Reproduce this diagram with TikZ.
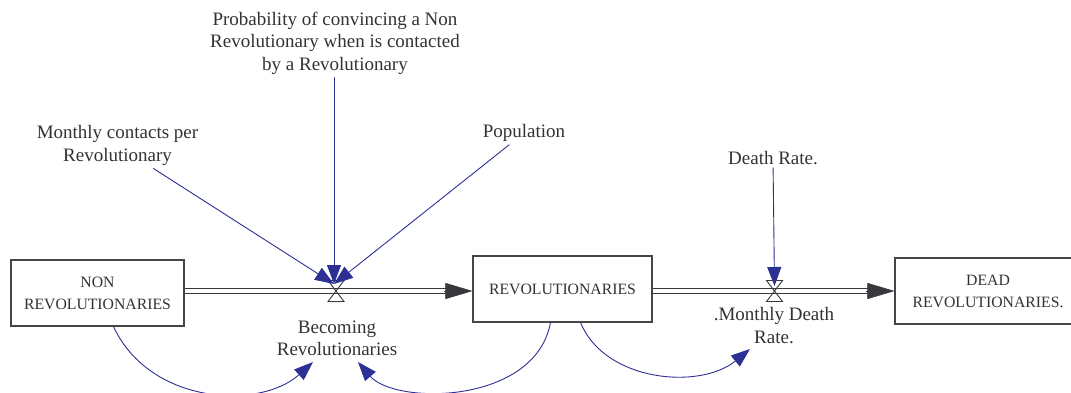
\documentclass[tikz,border=0pt]{standalone}
\usepackage{fontspec}
\setmainfont{Liberation Serif}
\usetikzlibrary{arrows.meta,calc}
\definecolor{linkblue}{RGB}{44,48,148}
\definecolor{txt}{RGB}{50,50,50}
\definecolor{boxgray}{RGB}{70,70,70}
\definecolor{pipegray}{RGB}{55,55,60}
\begin{document}
\begin{tikzpicture}[x=1pt,y=-1pt,
  stock/.style={draw=boxgray, line width=1.1pt, text=txt, align=center,
    font=\fontsize{15.75}{22}\selectfont, minimum height=66pt, inner sep=0pt},
  lbl/.style={text=txt, align=center, font=\fontsize{19}{22.5}\selectfont, inner sep=0pt, outer sep=3pt},
  valve/.style={minimum width=16pt, minimum height=21pt, inner sep=0pt, outer sep=0pt},
  valveline/.style={draw=pipegray, line width=0.9pt, line join=miter},
  pipeline/.style={draw=pipegray, line width=1pt},
  flowtip/.style={draw=pipegray, fill=pipegray, line width=0.5pt, -{Triangle[length=27pt,width=16pt]}},
  link/.style={draw=linkblue, line width=0.9pt, -{Triangle[length=19pt,width=14pt]}}
]
\useasboundingbox (0,0) rectangle (1071,392);

% stocks
\node[stock, minimum width=173pt] (non) at (97.5,293) {NON\\REVOLUTIONARIES};
\node[stock, minimum width=179pt] (rev) at (562.5,289) {REVOLUTIONARIES};
\node[stock, minimum width=186pt] (dead) at (988,291) {DEAD\\REVOLUTIONARIES.};

% valves
\node[valve] (v1) at (336,291) {};
\node[valve] (v2) at (774.5,291) {};

% pipes (two parallel lines each)
\draw[pipeline] ($(non.east |- v1.center)+(0,-2.3)$) -- ($(rev.west |- v1.center)+(-20,-2.3)$);
\draw[pipeline] ($(non.east |- v1.center)+(0,2.3)$) -- ($(rev.west |- v1.center)+(-20,2.3)$);
\draw[flowtip] ($(rev.west |- v1.center)+(-28,0)$) -- (rev.west |- v1.center);
\draw[pipeline] ($(rev.east |- v2.center)+(0,-2.3)$) -- ($(dead.west |- v2.center)+(-20,-2.3)$);
\draw[pipeline] ($(rev.east |- v2.center)+(0,2.3)$) -- ($(dead.west |- v2.center)+(-20,2.3)$);
\draw[flowtip] ($(dead.west |- v2.center)+(-28,0)$) -- (dead.west |- v2.center);

\draw[valveline] (v1.north west) -- (v1.north east) -- (v1.south west) -- (v1.south east) -- cycle;
\draw[valveline] (v2.north west) -- (v2.north east) -- (v2.south west) -- (v2.south east) -- cycle;

% labels
\node[lbl] (prob) at (335,43) {Probability of convincing a Non\\Revolutionary when is contacted\\by a Revolutionary};
\node[lbl] (contacts) at (117.5,145.5) {Monthly contacts per\\Revolutionary};
\node[lbl] (pop) at (524,133) {Population};
\node[lbl] (death) at (773,158) {Death Rate.};
\node[lbl] (becoming) at (337,338.5) {Becoming\\Revolutionaries};
\node[lbl] (mdr) at (774,325.5) {.Monthly Death\\Rate.};

% arrow targets
\coordinate (t1) at ($(v1.center)+(-2,-7)$);
\coordinate (t2) at ($(v2.center)+(0,-5)$);
\coordinate (b1) at (313,362);
\coordinate (b2) at (358,362);
\coordinate (m1) at (750,349);

% links
\draw[link] (prob) -- (t1 |- prob.south) -- (t1);
\draw[link] (contacts) -- (t1);
\draw[link] (pop) -- (t1);
\draw[link] (death) -- (t2);

\draw[link] ($(non.south)+(16,0)$) .. controls (150,405) and (260,410) .. (b1);
\draw[link] ($(rev.south)+(-12,0)$) .. controls (535,405) and (395,405) .. (b2);
\draw[link] ($(rev.south)+(18,0)$) .. controls (605,382) and (700,390) .. (m1);
\end{tikzpicture}
\end{document}
